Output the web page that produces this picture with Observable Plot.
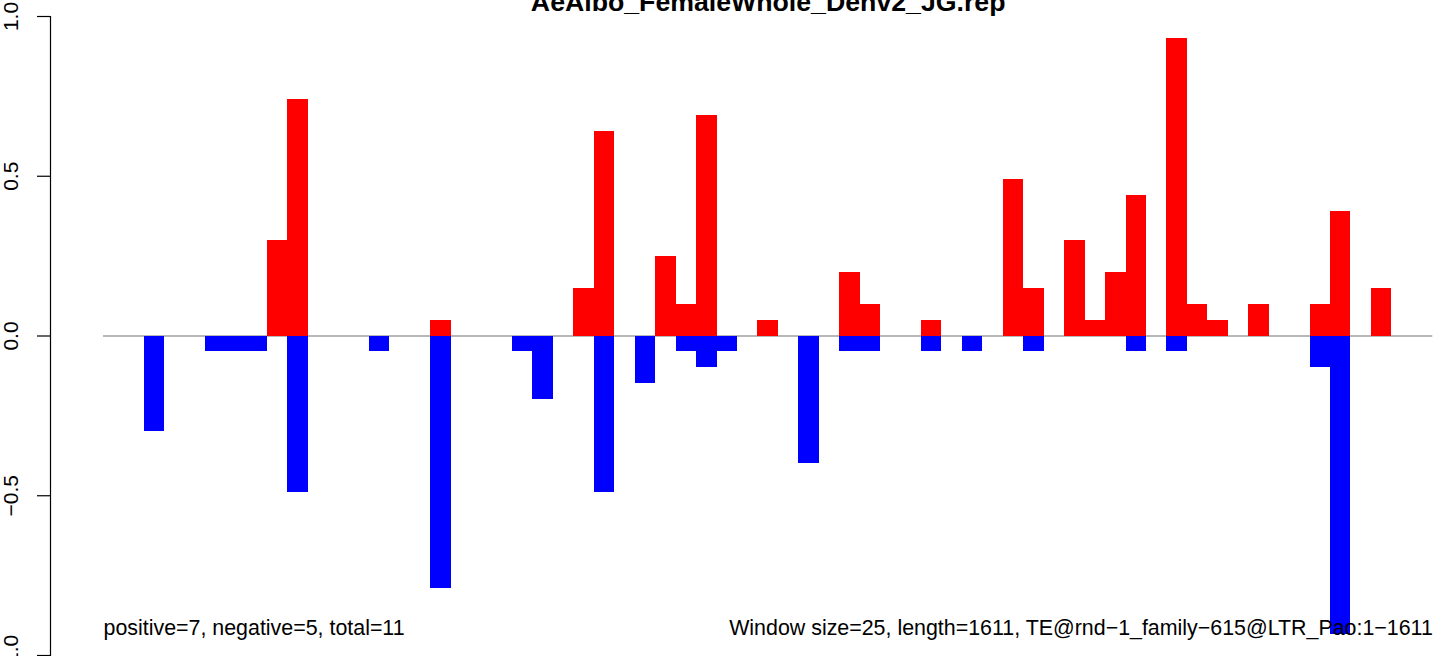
<!DOCTYPE html>
<html><head><meta charset="utf-8">
<script src="https://cdn.jsdelivr.net/npm/d3@7"></script>
<script src="https://cdn.jsdelivr.net/npm/@observablehq/plot@0.6"></script>
<style>html,body{margin:0;padding:0;background:#fff;overflow:hidden} #chart svg{display:block}</style>
</head><body><div id="chart"></div>
<script>
const title = "AeAlbo_FemaleWhole_Denv2_JG.rep";
const leftNote = "positive=7, negative=5, total=11";
const rightNote = "Window size=25, length=1611, TE@rnd\u22121_family\u2212615@LTR_Pao:1\u22121611";
const yTicks = [-1, -0.5, 0, 0.5, 1];

// one value per 25-bp window (65 windows)
const positive = [
  0, 0, 0, 0, 0, 0, 0, 0, 0.3, 0.74,
  0, 0, 0, 0, 0, 0, 0.05, 0, 0, 0,
  0, 0, 0, 0.15, 0.64, 0, 0, 0.25, 0.1, 0.69,
  0, 0, 0.05, 0, 0, 0, 0.2, 0.1, 0, 0,
  0.05, 0, 0, 0, 0.49, 0.15, 0, 0.3, 0.05, 0.2,
  0.44, 0, 0.93, 0.1, 0.05, 0, 0.1, 0, 0, 0.1,
  0.39, 0, 0.15, 0, 0
];
const negative = [
  0, 0, -0.3, 0, 0, -0.05, -0.05, -0.05, 0, -0.49,
  0, 0, 0, -0.05, 0, 0, -0.79, 0, 0, 0,
  -0.05, -0.2, 0, 0, -0.49, 0, -0.15, 0, -0.05, -0.1,
  -0.05, 0, 0, 0, -0.4, 0, -0.05, -0.05, 0, 0,
  -0.05, 0, -0.05, 0, 0, -0.05, 0, 0, 0, 0,
  -0.05, 0, -0.05, 0, 0, 0, 0, 0, 0, -0.1,
  -0.935, 0, 0, 0, 0
];

const n = positive.length;
const posBars = positive.map((v, i) => ({bin: i, value: v})).filter(d => d.value !== 0);
const negBars = negative.map((v, i) => ({bin: i, value: v})).filter(d => d.value !== 0);
const font = "'Liberation Sans', Arial, Helvetica, sans-serif";

const chart = Plot.plot({
  width: 1444,
  height: 656,
  marginLeft: 50,
  marginRight: 12,
  marginTop: 16,
  marginBottom: 1,
  style: {fontFamily: font, background: "#fff", overflow: "visible", color: "#000"},
  x: {domain: [0, n], range: [103, 1432.3], axis: null},
  y: {domain: [-1, 1]},
  marks: [
    Plot.frame({anchor: "left", stroke: "#000", strokeWidth: 1.2}),
    Plot.axisY(yTicks, {
      anchor: "left", tickSize: 13, tickPadding: 19.5, tickRotate: -90,
      textAnchor: "middle", lineAnchor: "bottom",
      fontSize: 21, tickFormat: d3.format(".1f"), label: null,
      stroke: "#000", strokeWidth: 1.2, fill: "#000"
    }),
    Plot.ruleY([0], {x1: 0, x2: n, stroke: "#a0a0a0", strokeWidth: 1.5}),
    Plot.rectY(posBars, {x1: "bin", x2: d => d.bin + 1, y1: 0, y2: "value", fill: "#ff0000", shapeRendering: "crispEdges"}),
    Plot.rectY(negBars, {x1: "bin", x2: d => d.bin + 1, y1: 0, y2: "value", fill: "#0000ff", shapeRendering: "crispEdges"}),
    Plot.text([title], {x: n / 2, frameAnchor: "top", lineAnchor: "bottom", dy: -5.5,
      text: d => d, fontSize: 26.7, fontWeight: "bold", fill: "#000"}),
    Plot.text([leftNote], {x: 0, frameAnchor: "bottom", lineAnchor: "bottom", dy: -21,
      textAnchor: "start", text: d => d, fontSize: 21.4, fill: "#000"}),
    Plot.text([rightNote], {x: n, frameAnchor: "bottom", lineAnchor: "bottom", dy: -21,
      textAnchor: "end", text: d => d, fontSize: 21.4, fill: "#000"})
  ]
});
document.getElementById("chart").appendChild(chart);
</script>
</body></html>
